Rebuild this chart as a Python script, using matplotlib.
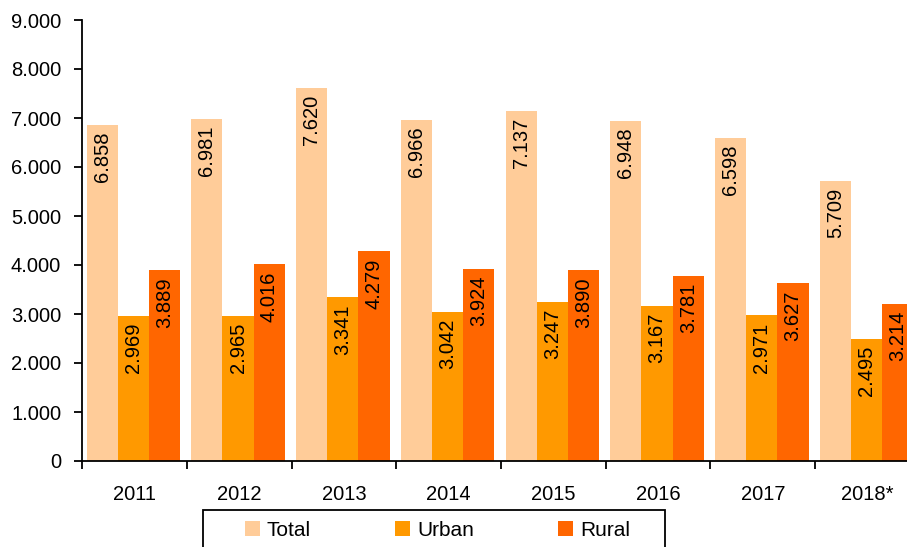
import numpy as np
import matplotlib.pyplot as plt
from matplotlib.patches import Patch, Rectangle

plt.rcParams['font.family'] = ['Liberation Sans', 'DejaVu Sans']

years = ['2011', '2012', '2013', '2014', '2015', '2016', '2017', '2018*']
total = [6858, 6981, 7620, 6966, 7137, 6948, 6598, 5709]
urban = [2969, 2965, 3341, 3042, 3247, 3167, 2971, 2495]
rural = [3889, 4016, 4279, 3924, 3890, 3781, 3627, 3214]
series_names = ['Total', 'Urban', 'Rural']
colors = ['#FFCC99', '#FF9900', '#FF6600']

W, H = 907, 547
fig = plt.figure(figsize=(W / 100, H / 100), dpi=100)
ax = fig.add_axes([82 / W, 1 - 461 / H, 838 / W, 441 / H])

x = np.arange(len(years))
w = 0.298
for i, (vals, c) in enumerate(zip([total, urban, rural], colors)):
    bars = ax.bar(x + (i - 1) * w - 0.01, vals, width=w, color=c, linewidth=0)
    for b, v in zip(bars, vals):
        lbl = f'{v // 1000}.{v % 1000:03d}'
        ax.annotate(lbl, (b.get_x() + b.get_width() / 2, v), xytext=(0, -5),
                    textcoords='offset points', rotation=90, ha='center',
                    va='top', fontsize=14.5, color='black')

ax.set_xlim(-0.5, len(years) - 0.5)
ax.set_ylim(0, 9000)
ax.set_yticks(np.arange(0, 9001, 1000))
ax.set_yticklabels(['0'] + [f'{k}.000' for k in range(1, 10)])
ax.set_xticks(x)
ax.set_xticklabels(years)
ax.set_xticks(np.arange(-0.5, len(years)), minor=True)
ax.tick_params(axis='x', which='major', length=0, pad=17, labelsize=14.5)
ax.tick_params(axis='x', which='minor', length=6, width=1.3, direction='out')
ax.tick_params(axis='y', length=6, width=1.3, pad=9, labelsize=14.5)
for s in ['top', 'right']:
    ax.spines[s].set_visible(False)
for s in ['left', 'bottom']:
    ax.spines[s].set_linewidth(1.3)

# legend box (cropped at the bottom of the image)
fig.patches.append(Rectangle((203 / W, -0.05), 462 / W, 0.05 + 37 / H,
                             transform=fig.transFigure, fill=False,
                             edgecolor='black', linewidth=1.3))
handles = [Patch(facecolor=c, edgecolor='none') for c in colors]
fig.legend(handles, series_names, loc='center left',
           bbox_to_anchor=(245 / W, 1 - 530 / H, 385 / W, 0),
           ncol=3, mode='expand', fontsize=15, frameon=False,
           handlelength=0.7, handleheight=0.7, handletextpad=0.35,
           borderaxespad=0, borderpad=0)

fig.savefig('out.png', dpi=100)
